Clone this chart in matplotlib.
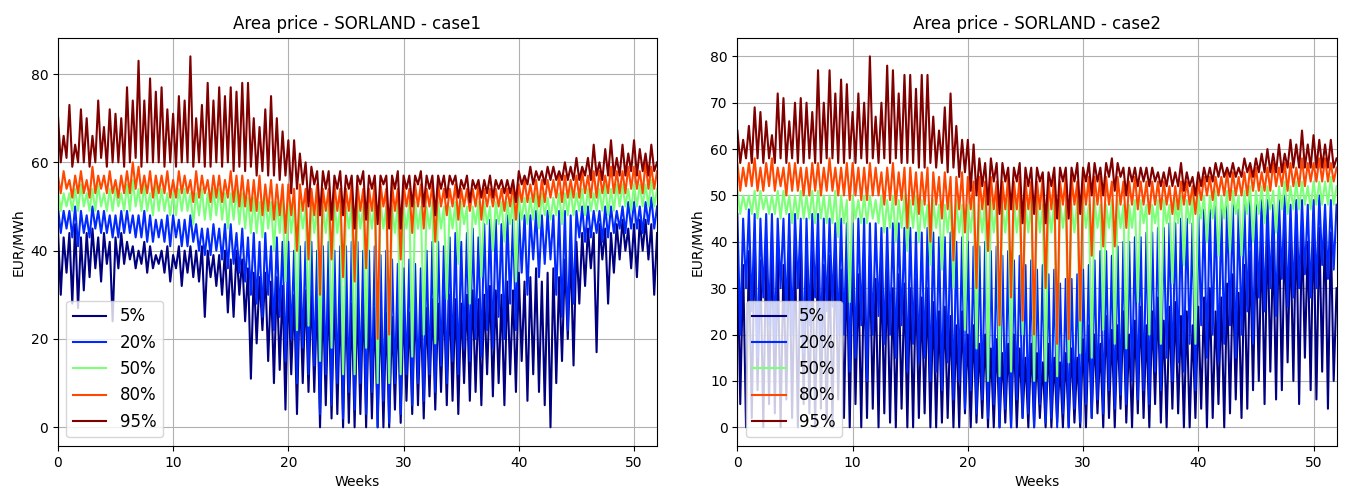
import matplotlib
matplotlib.use("Agg")
import matplotlib.pyplot as plt
import numpy as np

# quantiles shown in the legend
percentiles = [5, 20, 50, 80, 95]
labels = [f"{p}%" for p in percentiles]

# area prices (EUR/MWh), sampled every quarter week, read off the chart
# ---- case1 ----
c1_p05 = [
    45, 30, 43, 35, 44, 28, 46, 27, 43, 31, 44, 34, 45, 36, 43, 33,
    44, 37, 42, 24, 43, 36, 44, 37, 42, 38, 41, 36, 40, 37, 42, 35,
    41, 36, 39, 37, 40, 35, 41, 33, 39, 36, 41, 32, 40, 35, 41, 34,
    40, 33, 41, 25, 40, 34, 39, 32, 39, 30, 40, 26, 38, 25, 40, 30,
    38, 24, 36, 11, 35, 19, 34, 22, 35, 15, 33, 10, 34, 13, 32, 4,
    33, 12, 30, 3, 32, 10, 31, 8, 31, 8, 30, 0, 30, 5, 31, 2,
    31, 3, 29, 0, 30, 1, 28, 0, 29, 3, 30, 0, 28, 2, 27, 0,
    27, 0, 26, 0, 25, 4, 27, 1, 28, 6, 26, 3, 29, 5, 27, 2,
    27, 7, 29, 4, 28, 8, 30, 5, 30, 6, 29, 3, 28, 10, 30, 6,
    31, 8, 29, 5, 30, 12, 32, 7, 31, 10, 30, 5, 33, 12, 31, 8,
    35, 15, 33, 6, 34, 12, 36, 8, 33, 5, 35, 0, 36, 10, 34, 15,
    38, 20, 40, 14, 42, 28, 44, 32, 45, 36, 44, 17, 46, 38, 45, 28,
    44, 35, 46, 38, 47, 40, 45, 36, 46, 34, 47, 40, 47, 38, 46, 30,
    44]
c1_p20 = [
    50, 44, 49, 45, 49, 43, 50, 41, 49, 44, 48, 43, 50, 45, 49, 44,
    49, 44, 48, 43, 48, 43, 49, 44, 49, 44, 48, 43, 48, 43, 49, 42,
    48, 42, 47, 43, 47, 42, 48, 41, 48, 43, 47, 41, 47, 41, 48, 42,
    46, 40, 45, 39, 45, 39, 46, 40, 45, 38, 46, 36, 46, 37, 44, 35,
    45, 33, 43, 30, 44, 28, 42, 25, 44, 30, 41, 22, 43, 25, 42, 15,
    42, 20, 40, 10, 41, 18, 42, 12, 42, 14, 40, 3, 41, 12, 42, 5,
    40, 10, 41, 2, 41, 8, 42, 4, 42, 10, 40, 3, 40, 8, 41, 0,
    39, 6, 40, 1, 38, 10, 37, 3, 36, 12, 38, 5, 37, 10, 36, 6,
    40, 12, 42, 8, 42, 14, 41, 10, 43, 15, 44, 12, 42, 18, 44, 15,
    45, 20, 43, 16, 46, 22, 47, 18, 47, 25, 46, 20, 48, 28, 47, 22,
    49, 35, 48, 30, 48, 38, 49, 34, 48, 37, 49, 38, 48, 30, 49, 25,
    49, 22, 48, 28, 49, 43, 50, 42, 50, 43, 49, 44, 49, 42, 50, 43,
    50, 44, 49, 45, 50, 44, 51, 45, 51, 45, 50, 44, 51, 46, 52, 45,
    50]
c1_p50 = [
    54, 49, 53, 50, 53, 49, 54, 49, 55, 50, 53, 49, 54, 49, 55, 50,
    53, 49, 54, 49, 54, 50, 53, 49, 55, 49, 56, 50, 54, 49, 55, 49,
    53, 48, 55, 49, 54, 49, 53, 48, 53, 48, 54, 49, 54, 49, 53, 46,
    53, 48, 54, 47, 53, 47, 54, 48, 54, 47, 53, 45, 53, 47, 54, 46,
    53, 45, 52, 44, 52, 44, 51, 43, 52, 45, 51, 40, 51, 44, 52, 33,
    51, 44, 51, 22, 51, 45, 50, 23, 51, 44, 50, 15, 50, 44, 51, 18,
    51, 44, 50, 12, 50, 45, 51, 12, 51, 45, 50, 18, 50, 45, 51, 10,
    51, 45, 50, 10, 50, 44, 51, 12, 50, 45, 51, 16, 51, 45, 50, 21,
    50, 45, 51, 19, 51, 45, 50, 29, 50, 45, 51, 37, 51, 46, 50, 28,
    50, 46, 51, 34, 51, 46, 50, 40, 51, 46, 51, 42, 51, 46, 52, 33,
    52, 47, 52, 46, 52, 47, 53, 45, 53, 48, 52, 47, 52, 48, 53, 46,
    53, 48, 54, 48, 53, 49, 54, 48, 54, 49, 53, 49, 54, 49, 55, 48,
    54, 49, 55, 50, 55, 50, 54, 49, 55, 50, 55, 50, 55, 50, 56, 50,
    54]
c1_p80 = [
    57, 53, 58, 54, 56, 52, 57, 53, 58, 53, 56, 52, 59, 53, 57, 54,
    57, 53, 58, 53, 56, 52, 57, 53, 58, 53, 60, 54, 59, 53, 57, 53,
    58, 52, 57, 53, 57, 53, 58, 52, 56, 52, 58, 53, 57, 53, 56, 51,
    58, 52, 57, 53, 56, 51, 57, 52, 57, 51, 56, 52, 58, 51, 57, 50,
    57, 50, 56, 49, 56, 49, 57, 48, 55, 49, 56, 47, 55, 48, 55, 44,
    55, 48, 54, 40, 55, 49, 54, 38, 54, 48, 55, 30, 54, 49, 54, 38,
    55, 49, 54, 34, 54, 49, 55, 33, 55, 49, 54, 36, 54, 49, 55, 20,
    55, 50, 54, 21, 55, 49, 54, 38, 55, 50, 54, 44, 55, 50, 55, 45,
    54, 50, 55, 42, 55, 50, 54, 48, 54, 50, 55, 47, 54, 50, 54, 49,
    54, 50, 55, 47, 54, 50, 54, 50, 54, 50, 54, 49, 54, 50, 55, 47,
    55, 51, 56, 51, 55, 51, 56, 50, 56, 51, 56, 52, 56, 52, 57, 51,
    57, 52, 56, 52, 57, 52, 58, 53, 57, 52, 58, 52, 58, 53, 57, 53,
    59, 53, 58, 53, 58, 53, 59, 54, 59, 54, 58, 53, 60, 54, 59, 54,
    58]
c1_p95 = [
    71, 60, 66, 61, 73, 59, 64, 60, 72, 60, 70, 59, 66, 60, 74, 61,
    68, 59, 72, 60, 71, 60, 70, 59, 77, 60, 74, 61, 83, 59, 74, 60,
    79, 60, 76, 60, 77, 59, 72, 60, 71, 59, 75, 60, 74, 60, 84, 59,
    70, 60, 73, 59, 78, 59, 74, 60, 77, 59, 75, 60, 77, 58, 76, 59,
    78, 58, 78, 59, 70, 57, 68, 58, 72, 57, 75, 57, 70, 56, 67, 57,
    65, 53, 65, 54, 62, 55, 60, 50, 59, 55, 58, 48, 58, 54, 58, 47,
    57, 54, 58, 48, 57, 54, 57, 45, 57, 55, 58, 47, 57, 54, 57, 46,
    57, 55, 57, 45, 57, 54, 58, 45, 57, 54, 57, 50, 57, 55, 58, 50,
    57, 54, 57, 48, 57, 54, 57, 52, 57, 55, 57, 52, 56, 54, 57, 51,
    56, 54, 56, 52, 56, 53, 57, 52, 56, 54, 56, 53, 56, 53, 56, 51,
    58, 55, 57, 55, 59, 55, 58, 56, 58, 55, 59, 56, 59, 56, 58, 56,
    60, 56, 59, 56, 61, 56, 59, 57, 61, 56, 64, 57, 60, 56, 63, 57,
    65, 57, 61, 57, 64, 57, 62, 58, 65, 57, 63, 58, 62, 57, 64, 58,
    60]

# ---- case2 ----
c2_p05 = [
    40, 5, 35, 0, 38, 2, 42, 8, 36, 0, 40, 5, 42, 3, 38, 0,
    35, 6, 40, 2, 39, 0, 41, 5, 36, 3, 38, 0, 40, 4, 35, 1,
    37, 0, 39, 6, 34, 2, 36, 0, 38, 5, 33, 0, 35, 2, 37, 4,
    32, 0, 35, 3, 34, 1, 30, 0, 33, 4, 31, 0, 30, 0, 32, 2,
    28, 3, 30, 0, 27, 0, 25, 1, 26, 2, 24, 0, 22, 0, 25, 3,
    20, 0, 22, 1, 18, 2, 20, 0, 17, 0, 19, 0, 16, 1, 18, 0,
    20, 0, 17, 2, 15, 0, 18, 0, 16, 2, 14, 0, 18, 0, 15, 1,
    14, 0, 16, 0, 17, 1, 15, 0, 19, 0, 22, 2, 20, 3, 18, 0,
    24, 2, 21, 0, 22, 4, 25, 1, 20, 0, 23, 3, 26, 2, 22, 0,
    25, 5, 28, 1, 23, 0, 26, 4, 27, 3, 24, 0, 25, 0, 22, 2,
    26, 4, 28, 0, 30, 2, 25, 5, 28, 0, 31, 3, 33, 6, 29, 2,
    35, 4, 38, 8, 40, 10, 42, 5, 44, 12, 40, 6, 45, 8, 43, 14,
    41, 10, 46, 5, 44, 15, 40, 8, 46, 6, 43, 12, 45, 4, 42, 10,
    30]
c2_p20 = [
    46, 20, 45, 30, 47, 25, 46, 15, 45, 28, 46, 22, 46, 18, 45, 30,
    45, 24, 46, 20, 46, 30, 45, 16, 45, 22, 46, 28, 46, 18, 45, 25,
    45, 26, 44, 20, 45, 20, 44, 12, 44, 15, 45, 22, 45, 10, 44, 20,
    44, 24, 43, 18, 43, 20, 44, 15, 44, 22, 43, 12, 43, 18, 42, 14,
    42, 15, 43, 10, 42, 12, 41, 8, 41, 14, 42, 6, 40, 10, 41, 4,
    40, 8, 39, 3, 39, 6, 40, 2, 38, 5, 39, 0, 37, 4, 38, 0,
    36, 6, 37, 2, 35, 3, 36, 0, 34, 5, 35, 1, 33, 2, 34, 0,
    31, 3, 32, 0, 32, 4, 33, 1, 34, 5, 35, 2, 36, 6, 38, 3,
    38, 8, 37, 4, 39, 7, 40, 5, 40, 10, 41, 6, 41, 8, 42, 5,
    42, 12, 43, 8, 43, 15, 44, 10, 44, 14, 45, 12, 45, 18, 44, 8,
    46, 22, 47, 15, 47, 20, 48, 14, 47, 18, 48, 22, 48, 15, 47, 20,
    48, 25, 49, 18, 48, 28, 49, 25, 49, 30, 48, 24, 49, 32, 50, 26,
    48, 28, 49, 30, 49, 33, 48, 28, 49, 30, 50, 35, 48, 32, 49, 34,
    48]
c2_p50 = [
    51, 46, 50, 47, 50, 46, 51, 45, 51, 47, 50, 46, 50, 46, 51, 45,
    51, 46, 50, 44, 50, 45, 51, 45, 50, 45, 51, 44, 51, 45, 50, 44,
    50, 44, 51, 41, 50, 44, 49, 27, 50, 45, 49, 44, 50, 44, 50, 45,
    49, 44, 50, 42, 49, 43, 50, 40, 49, 43, 50, 38, 49, 43, 50, 40,
    49, 43, 48, 35, 49, 43, 48, 34, 48, 42, 49, 30, 49, 42, 48, 21,
    48, 42, 49, 17, 48, 42, 49, 10, 49, 42, 48, 11, 48, 42, 49, 12,
    49, 42, 48, 20, 48, 42, 49, 10, 49, 42, 48, 10, 48, 42, 49, 11,
    49, 43, 48, 14, 48, 42, 49, 16, 49, 43, 48, 15, 49, 43, 48, 21,
    48, 43, 49, 18, 49, 43, 48, 17, 48, 43, 49, 27, 49, 44, 48, 20,
    48, 44, 49, 18, 49, 44, 48, 31, 49, 44, 50, 35, 49, 44, 50, 18,
    50, 45, 50, 40, 50, 45, 51, 37, 50, 45, 51, 38, 51, 46, 50, 37,
    51, 46, 52, 40, 51, 46, 52, 44, 52, 47, 51, 42, 52, 47, 53, 46,
    52, 47, 53, 47, 53, 48, 52, 47, 53, 48, 53, 48, 53, 48, 54, 48,
    52]
c2_p80 = [
    57, 51, 56, 52, 57, 52, 58, 51, 56, 51, 57, 52, 58, 51, 56, 52,
    56, 50, 57, 51, 57, 51, 56, 50, 56, 50, 57, 51, 57, 50, 56, 51,
    58, 51, 56, 50, 56, 50, 57, 49, 57, 50, 56, 49, 56, 49, 57, 50,
    56, 50, 55, 48, 56, 49, 57, 48, 55, 49, 56, 43, 56, 48, 55, 46,
    55, 48, 56, 40, 55, 48, 54, 45, 55, 47, 54, 36, 54, 47, 55, 42,
    54, 47, 53, 30, 54, 47, 53, 38, 54, 47, 53, 22, 53, 47, 54, 28,
    53, 47, 54, 23, 53, 47, 53, 20, 53, 47, 54, 30, 53, 47, 54, 18,
    53, 48, 54, 19, 54, 48, 53, 23, 54, 48, 54, 37, 54, 48, 54, 39,
    54, 48, 53, 39, 54, 48, 53, 43, 53, 48, 54, 47, 53, 48, 53, 46,
    53, 48, 53, 47, 53, 48, 52, 46, 52, 47, 53, 48, 53, 48, 52, 46,
    53, 49, 54, 50, 54, 49, 54, 50, 54, 50, 55, 49, 55, 50, 54, 50,
    55, 50, 56, 51, 56, 51, 55, 51, 56, 51, 57, 52, 56, 52, 57, 51,
    57, 52, 56, 52, 58, 52, 57, 53, 57, 53, 58, 53, 58, 53, 57, 53,
    56]
c2_p95 = [
    64, 57, 62, 58, 65, 57, 69, 58, 68, 57, 66, 58, 63, 57, 72, 58,
    71, 57, 66, 58, 70, 57, 71, 57, 70, 58, 68, 57, 77, 57, 70, 58,
    77, 58, 72, 57, 75, 57, 74, 58, 68, 57, 72, 58, 70, 57, 80, 58,
    67, 57, 70, 58, 78, 57, 77, 58, 72, 57, 76, 57, 76, 57, 73, 56,
    76, 56, 76, 57, 67, 56, 64, 57, 69, 55, 72, 56, 65, 54, 62, 55,
    62, 51, 61, 50, 58, 52, 57, 48, 58, 53, 57, 46, 57, 53, 56, 47,
    56, 53, 57, 44, 56, 52, 56, 46, 56, 53, 55, 44, 55, 52, 56, 45,
    56, 53, 56, 45, 56, 53, 57, 46, 56, 53, 57, 50, 57, 53, 56, 50,
    57, 54, 58, 51, 57, 54, 56, 50, 56, 53, 56, 52, 56, 53, 56, 52,
    56, 53, 55, 52, 55, 52, 56, 52, 55, 52, 57, 51, 55, 52, 54, 50,
    55, 52, 56, 53, 56, 53, 57, 54, 57, 54, 56, 54, 57, 54, 56, 54,
    58, 55, 57, 54, 58, 55, 59, 55, 60, 55, 59, 55, 61, 55, 59, 56,
    62, 56, 61, 56, 64, 56, 61, 56, 63, 56, 62, 56, 61, 56, 62, 56,
    58]

cases = {
    'case1': [c1_p05, c1_p20, c1_p50, c1_p80, c1_p95],
    'case2': [c2_p05, c2_p20, c2_p50, c2_p80, c2_p95],
}

# jet colours placed by percentile between the lowest and highest quantile
pct = np.array(percentiles, dtype=float)
colors = plt.cm.jet((pct - pct.min()) / (pct.max() - pct.min()))

fig, axes = plt.subplots(1, 2, figsize=(13.46, 4.91), dpi=100)
fig.subplots_adjust(left=0.043, right=0.993, bottom=0.092, top=0.923, wspace=0.134)

for ax, (case, series) in zip(axes, cases.items()):
    for vals, lab, col in zip(series, labels, colors):
        vals = np.array(vals, dtype=float)
        weeks = np.arange(len(vals)) / 4.0
        ax.plot(weeks, vals, color=col, label=lab, linewidth=1.5)
    ax.set_title(f"Area price - SORLAND - {case}")
    ax.set_xlabel("Weeks")
    ax.set_ylabel("EUR/MWh")
    ax.set_xlim(0, 52)
    ax.grid(True)
    ax.legend(loc='lower left', fontsize=12)

fig.savefig("out.png", dpi=100)
